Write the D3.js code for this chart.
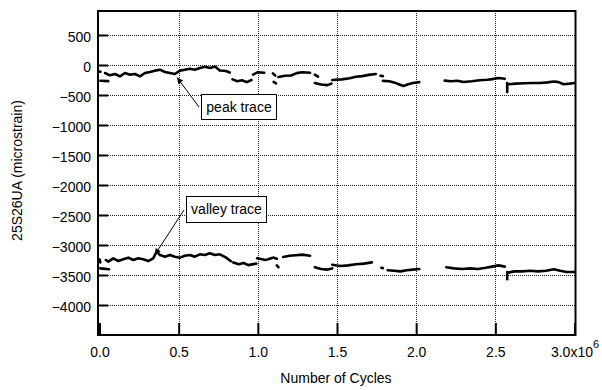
<!DOCTYPE html>
<html>
<head>
<meta charset="utf-8">
<script src="https://cdn.jsdelivr.net/npm/d3@7"></script>
<style>
  body { margin: 0; background: #fff; }
  svg { display: block; font-family: "Liberation Sans", Arial, sans-serif; }
</style>
</head>
<body>
<div id="chart"></div>
<script>
"use strict";

const width = 602;
const height = 390;

// x in units of 10^6 cycles, y in microstrain
const xTicks = [0, 0.5, 1, 1.5, 2, 2.5, 3];
const yTicks = [500, 0, -500, -1000, -1500, -2000, -2500, -3000, -3500, -4000];

const peakSegments = [
  [[0.0, -110], [0.006, -112]],
  [[0.006, -262], [0.055, -268]],
  [[0.035, -133], [0.066, -172], [0.098, -150], [0.129, -189], [0.161, -133],
   [0.192, -161], [0.224, -150], [0.256, -189], [0.287, -133], [0.319, -117],
   [0.350, -94], [0.382, -78], [0.413, -117], [0.445, -133], [0.476, -150],
   [0.508, -94], [0.539, -78], [0.571, -61], [0.602, -78], [0.634, -50],
   [0.666, -30], [0.697, -50], [0.729, -25], [0.760, -92], [0.798, -100],
   [0.823, -125]],
  [[0.84, -240], [0.87, -270], [0.90, -255], [0.93, -285], [0.96, -250]],
  [[0.97, -160], [1.00, -120], [1.04, -130]],
  [[1.095, -140], [1.11, -175]],
  [[1.10, -280], [1.115, -305]],
  [[1.13, -200], [1.17, -180], [1.21, -175], [1.245, -135], [1.28, -120], [1.33, -128]],
  [[1.36, -160], [1.38, -195]],
  [[1.36, -300], [1.40, -325], [1.44, -335], [1.465, -310]],
  [[1.47, -250], [1.53, -240], [1.58, -220], [1.62, -195], [1.66, -185], [1.70, -165], [1.745, -150]],
  [[1.775, -180], [1.79, -185]],
  [[1.79, -265], [1.83, -270], [1.86, -290], [1.89, -320], [1.92, -350], [1.95, -320], [1.98, -300], [2.02, -285]],
  [[2.18, -260], [2.22, -270], [2.26, -262], [2.30, -282], [2.35, -270], [2.40, -255],
   [2.45, -245], [2.48, -235], [2.52, -218], [2.56, -228]],
  [[2.575, -300], [2.575, -450]],
  [[2.58, -320], [2.63, -310], [2.68, -305], [2.73, -300], [2.78, -300], [2.83, -290],
   [2.87, -275], [2.90, -285], [2.93, -320], [2.97, -310], [3.0, -300]]
];

const valleySegments = [
  [[0.0, -3240], [0.005, -3290]],
  [[0.005, -3390], [0.06, -3405]],
  [[0.04, -3250], [0.056, -3278], [0.087, -3222], [0.119, -3267], [0.150, -3238],
   [0.182, -3211], [0.213, -3250], [0.245, -3222], [0.276, -3238], [0.308, -3267],
   [0.339, -3222], [0.361, -3111], [0.382, -3167], [0.413, -3195], [0.445, -3167],
   [0.476, -3195], [0.508, -3211], [0.539, -3178], [0.571, -3167], [0.602, -3195],
   [0.634, -3155], [0.666, -3167], [0.697, -3139], [0.729, -3167], [0.760, -3155],
   [0.80, -3210], [0.83, -3270]],
  [[0.845, -3290], [0.88, -3320], [0.91, -3300], [0.94, -3335], [0.99, -3310]],
  [[0.995, -3220], [1.05, -3250]],
  [[1.06, -3240], [1.10, -3210], [1.12, -3230]],
  [[1.12, -3340], [1.13, -3370]],
  [[1.16, -3200], [1.20, -3180], [1.24, -3170], [1.28, -3160], [1.33, -3180]],
  [[1.36, -3370], [1.40, -3400], [1.44, -3410], [1.47, -3390]],
  [[1.47, -3330], [1.52, -3350], [1.57, -3340], [1.62, -3320], [1.67, -3310], [1.72, -3290]],
  [[1.78, -3380], [1.79, -3385]],
  [[1.82, -3420], [1.86, -3430], [1.90, -3440], [1.94, -3420], [1.98, -3410], [2.02, -3400]],
  [[2.19, -3370], [2.24, -3390], [2.29, -3400], [2.34, -3390], [2.39, -3400],
   [2.44, -3380], [2.48, -3360], [2.52, -3340], [2.56, -3360]],
  [[2.575, -3450], [2.575, -3570]],
  [[2.58, -3460], [2.62, -3440], [2.67, -3440], [2.72, -3430], [2.77, -3440],
   [2.82, -3430], [2.87, -3405], [2.91, -3430], [2.95, -3450], [3.0, -3450]]
];

// annotation: label, arrow tip in data units
const notes = [
  { label: "peak trace", tip: [0.49, -210], box: [201, 94, 75, 25], from: [199, 107] },
  { label: "valley trace", tip: [0.35, -3160], box: [186, 196, 80, 26], from: [184, 210] }
];

const plot = { left: 98, top: 11, right: 575.5, bottom: 335 };

const x = d3.scaleLinear().domain([0, 3]).range([99.5, 574.5]);
const y = d3.scaleLinear().domain([-4500, 900]).range([plot.bottom, plot.top]);

const svg = d3.select("#chart").append("svg")
  .attr("width", width)
  .attr("height", height);

const defs = svg.append("defs");
defs.append("marker")
  .attr("id", "arrow")
  .attr("viewBox", "0 0 10 10")
  .attr("refX", 10)
  .attr("refY", 5)
  .attr("markerWidth", 8)
  .attr("markerHeight", 6)
  .attr("markerUnits", "userSpaceOnUse")
  .attr("orient", "auto")
  .append("path")
  .attr("d", "M0,0 L10,5 L0,10 z")
  .attr("fill", "#000");

// grid
const grid = svg.append("g")
  .attr("stroke", "#222")
  .attr("stroke-width", 1)
  .attr("stroke-dasharray", "1,1");

grid.selectAll(".hgrid")
  .data(yTicks)
  .join("line")
  .attr("class", "hgrid")
  .attr("x1", plot.left)
  .attr("x2", plot.right)
  .attr("y1", d => Math.round(y(d)) + 0.5)
  .attr("y2", d => Math.round(y(d)) + 0.5);

grid.selectAll(".vgrid")
  .data(xTicks.slice(1, -1))
  .join("line")
  .attr("class", "vgrid")
  .attr("x1", d => Math.round(x(d)) + 0.5)
  .attr("x2", d => Math.round(x(d)) + 0.5)
  .attr("y1", plot.top)
  .attr("y2", plot.bottom);

// traces
const line = d3.line()
  .x(d => x(d[0]))
  .y(d => y(d[1]));

const traces = svg.append("g")
  .attr("fill", "none")
  .attr("stroke", "#000")
  .attr("stroke-width", 2.6)
  .attr("stroke-linecap", "round")
  .attr("stroke-linejoin", "round");

traces.selectAll(".peak")
  .data(peakSegments)
  .join("path")
  .attr("class", "peak")
  .attr("d", line);

traces.selectAll(".valley")
  .data(valleySegments)
  .join("path")
  .attr("class", "valley")
  .attr("d", line);

// frame
svg.append("rect")
  .attr("x", plot.left)
  .attr("y", plot.top)
  .attr("width", plot.right - plot.left)
  .attr("height", plot.bottom - plot.top)
  .attr("fill", "none")
  .attr("stroke", "#000")
  .attr("stroke-width", 2);

// axes
const xAxis = svg.append("g")
  .attr("transform", "translate(0," + plot.bottom + ")")
  .call(d3.axisBottom(x)
    .tickValues(xTicks)
    .tickSizeInner(-12)
    .tickSizeOuter(0)
    .tickPadding(12)
    .tickFormat(d3.format(".1f")));

const yAxis = svg.append("g")
  .attr("transform", "translate(" + plot.left + ",0)")
  .call(d3.axisLeft(y)
    .tickValues(yTicks)
    .tickSizeInner(-10)
    .tickSizeOuter(0)
    .tickPadding(7)
    .tickFormat(d3.format("d")));

[xAxis, yAxis].forEach(function(a) {
  a.select(".domain").remove();
  a.selectAll(".tick line").attr("stroke-width", 2);
  a.selectAll(".tick text")
    .attr("fill", "#000")
    .style("font-size", "14px")
    .style("font-family", "Liberation Sans, Arial, sans-serif");
});

yAxis.selectAll(".tick text").attr("dy", "0.43em");

// last x label gets the exponent
const lastLabel = xAxis.selectAll(".tick text").filter(d => d === 3);
lastLabel.text("3.0x10");
lastLabel.append("tspan")
  .attr("dy", "-0.85em")
  .style("font-size", "11px")
  .text("6");

// axis titles
svg.append("text")
  .attr("x", 336)
  .attr("y", 383)
  .attr("text-anchor", "middle")
  .style("font-size", "14px")
  .text("Number of Cycles");

svg.append("text")
  .attr("transform", "translate(22,170.5) rotate(-90)")
  .attr("text-anchor", "middle")
  .style("font-size", "14px")
  .text("25S26UA (microstrain)");

// annotations
const note = svg.selectAll(".note")
  .data(notes)
  .join("g")
  .attr("class", "note");

note.append("line")
  .attr("x1", d => d.from[0])
  .attr("y1", d => d.from[1])
  .attr("x2", d => x(d.tip[0]))
  .attr("y2", d => y(d.tip[1]))
  .attr("stroke", "#000")
  .attr("stroke-width", 1)
  .attr("marker-end", "url(#arrow)");

note.append("rect")
  .attr("x", d => d.box[0] + 0.5)
  .attr("y", d => d.box[1] + 0.5)
  .attr("width", d => d.box[2])
  .attr("height", d => d.box[3])
  .attr("fill", "#fff")
  .attr("stroke", "#000")
  .attr("stroke-width", 1);

note.append("text")
  .attr("x", d => d.box[0] + d.box[2] / 2 + 0.5)
  .attr("y", d => d.box[1] + 18)
  .attr("text-anchor", "middle")
  .style("font-size", "14px")
  .text(d => d.label);
</script>
</body>
</html>
